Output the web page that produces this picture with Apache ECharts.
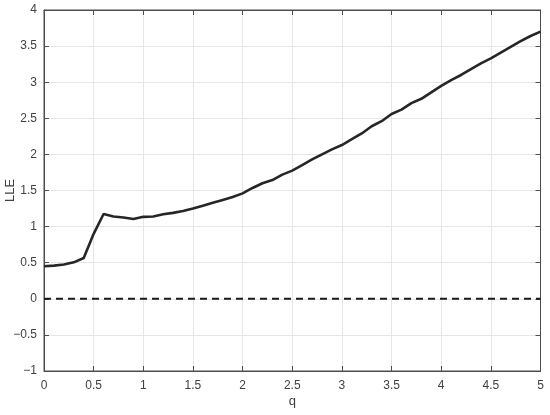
<!DOCTYPE html>
<html>
<head>
<meta charset="utf-8">
<script src="https://cdn.jsdelivr.net/npm/echarts@6/dist/echarts.min.js"></script>
<style>
  html, body { margin: 0; padding: 0; background: #fff; }
  #chart { width: 550px; height: 415px; }
</style>
</head>
<body>
<div id="chart"></div>
<script>
  // q values and the largest Lyapunov exponent
  var qValues = [0, 0.1, 0.2, 0.3, 0.4, 0.5, 0.6, 0.7, 0.8, 0.9,
    1.0, 1.1, 1.2, 1.3, 1.4, 1.5, 1.6, 1.7, 1.8, 1.9,
    2.0, 2.1, 2.2, 2.3, 2.4, 2.5, 2.6, 2.7, 2.8, 2.9,
    3.0, 3.1, 3.2, 3.3, 3.4, 3.5, 3.6, 3.7, 3.8, 3.9,
    4.0, 4.1, 4.2, 4.3, 4.4, 4.5, 4.6, 4.7, 4.8, 4.9, 5.0];
  var lleValues = [0.45, 0.46, 0.475, 0.505, 0.565, 0.90, 1.175, 1.14, 1.125, 1.105,
    1.135, 1.14, 1.17, 1.19, 1.215, 1.25, 1.29, 1.33, 1.37, 1.41,
    1.46, 1.535, 1.60, 1.645, 1.72, 1.775, 1.85, 1.93, 2.00, 2.07,
    2.13, 2.21, 2.29, 2.39, 2.46, 2.56, 2.62, 2.71, 2.77, 2.86,
    2.95, 3.03, 3.10, 3.18, 3.26, 3.33, 3.41, 3.49, 3.57, 3.64, 3.70];
  var zeroLineQ = [0, 5];
  var zeroLineY = [0, 0];

  var lleData = qValues.map(function (q, i) { return [q, lleValues[i]]; });
  var zeroData = zeroLineQ.map(function (q, i) { return [q, zeroLineY[i]]; });

  var fmt = function (v) { return String(v).replace('-', '\u2212'); };
  var textColor = '#404040';
  var axisColor = '#4d4d4d';

  var option = {
    animation: false,
    grid: {
      left: 44,
      right: 9.5,
      top: 10,
      bottom: 44,
      containLabel: false,
      outerBoundsMode: 'none',
      show: true,
      borderColor: axisColor,
      borderWidth: 1
    },
    xAxis: [
      {
        type: 'value',
        min: 0,
        max: 5,
        interval: 0.5,
        name: 'q',
        nameLocation: 'middle',
        nameGap: 24,
        nameMoveOverlap: false,
        nameTextStyle: { color: textColor, fontSize: 13, fontFamily: 'Liberation Sans' },
        axisLine: { onZero: false, lineStyle: { color: axisColor, width: 1 } },
        axisTick: { inside: true, length: 5, lineStyle: { color: axisColor } },
        axisLabel: { color: textColor, fontSize: 12, margin: 9, fontFamily: 'Liberation Sans', formatter: fmt },
        splitLine: { show: true, lineStyle: { color: '#e6e6e6', width: 1 } }
      },
      {
        type: 'value',
        position: 'top',
        min: 0,
        max: 5,
        interval: 0.5,
        axisLine: { show: true, onZero: false, lineStyle: { color: axisColor, width: 1 } },
        axisTick: { show: true, inside: true, length: 5, lineStyle: { color: axisColor } },
        axisLabel: { show: false },
        splitLine: { show: false }
      }
    ],
    yAxis: [
      {
        type: 'value',
        min: -1,
        max: 4,
        interval: 0.5,
        name: 'LLE',
        nameLocation: 'middle',
        nameRotate: 90,
        nameGap: 27,
        nameMoveOverlap: false,
        nameTextStyle: { color: textColor, fontSize: 13, fontFamily: 'Liberation Sans' },
        axisLine: { show: true, onZero: false, lineStyle: { color: axisColor, width: 1 } },
        axisTick: { show: true, inside: true, length: 5, lineStyle: { color: axisColor } },
        axisLabel: { color: textColor, fontSize: 12, margin: 7, fontFamily: 'Liberation Sans', formatter: fmt },
        splitLine: { show: true, lineStyle: { color: '#e6e6e6', width: 1 } }
      },
      {
        type: 'value',
        position: 'right',
        min: -1,
        max: 4,
        interval: 0.5,
        axisLine: { show: true, onZero: false, lineStyle: { color: axisColor, width: 1 } },
        axisTick: { show: true, inside: true, length: 5, lineStyle: { color: axisColor } },
        axisLabel: { show: false },
        splitLine: { show: false }
      }
    ],
    series: [
      {
        name: 'zero',
        type: 'line',
        data: zeroData,
        showSymbol: false,
        lineStyle: { color: '#1a1a1a', width: 2, type: [7, 5] }
      },
      {
        name: 'LLE',
        type: 'line',
        data: lleData,
        showSymbol: false,
        lineStyle: { color: '#262626', width: 2.6 }
      }
    ]
  };

  var myChart = echarts.init(document.getElementById('chart'));
  myChart.setOption(option);
</script>
</body>
</html>
